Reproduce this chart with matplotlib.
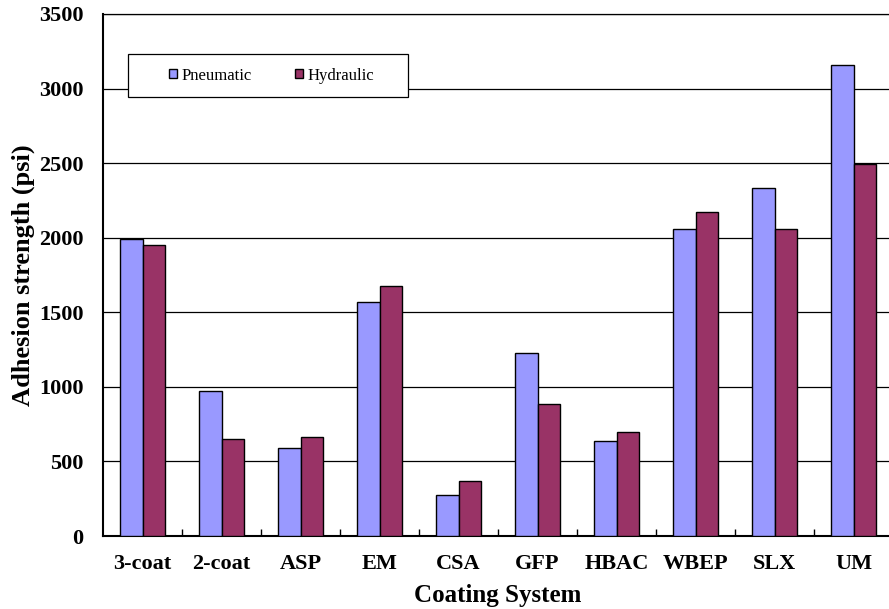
import numpy as np
import matplotlib.pyplot as plt
from matplotlib.patches import Rectangle

plt.rcParams['font.family'] = ['Liberation Serif', 'DejaVu Serif']

# data
systems = ['3-coat', '2-coat', 'ASP', 'EM', 'CSA', 'GFP', 'HBAC', 'WBEP', 'SLX', 'UM']
pneumatic = [1990, 970, 592, 1571, 277, 1229, 637, 2061, 2332, 3159]
hydraulic = [1950, 648, 664, 1676, 367, 887, 700, 2171, 2057, 2495]
yticks = [0, 500, 1000, 1500, 2000, 2500, 3000, 3500]

W, H = 889, 609
fig = plt.figure(figsize=(W/100, H/100), dpi=100)
ax = fig.add_axes([103/W, 1-536/H, (893-103)/W, (536-14)/H])

x = np.arange(len(systems))
bw = 0.285
ax.bar(x - bw/2, pneumatic, bw, color='#9999FF', edgecolor='black', linewidth=1,
       label='Pneumatic', zorder=3)
ax.bar(x + bw/2, hydraulic, bw, color='#993366', edgecolor='black', linewidth=1,
       label='Hydraulic', zorder=3)

ax.set_xlim(-0.5, len(systems) - 0.5)
ax.set_ylim(0, 3500)
ax.set_yticks(yticks)
ax.set_yticklabels([str(v) for v in yticks], fontweight='bold', fontsize=16)
ax.yaxis.grid(True, color='black', linewidth=0.9, zorder=0)
ax.set_axisbelow(True)

ax.set_xticks(x)
ax.set_xticklabels(systems, fontweight='bold', fontsize=16)
ax.set_xticks(np.arange(len(systems)) + 0.5, minor=True)
ax.tick_params(axis='x', which='major', length=0, pad=13)
ax.tick_params(axis='x', which='minor', direction='in', length=5, width=1)
ax.tick_params(axis='y', length=0, pad=14)

ax.spines['right'].set_visible(False)
ax.spines['top'].set_linewidth(0.9)
ax.spines['left'].set_linewidth(1.5)
ax.spines['bottom'].set_linewidth(1.5)

ax.set_ylabel('Adhesion strength (psi)', fontweight='bold', fontsize=19, labelpad=3)
ax.set_xlabel('Coating System', fontweight='bold', fontsize=18, labelpad=7)

# legend frame drawn by hand to get the wide box
fig.patches.append(Rectangle((128/W, 1-97/H), (408-128)/W, (97-54)/H,
                             transform=fig.transFigure, facecolor='white',
                             edgecolor='black', linewidth=0.9, zorder=5))
leg = fig.legend(loc='center left', bbox_to_anchor=(169/W, 1-75.5/H),
                 ncol=2, frameon=False, fontsize=12, handlelength=0.5,
                 handleheight=0.5, handletextpad=0.25, columnspacing=2.6,
                 borderpad=0, borderaxespad=0)
leg.set_zorder(6)

fig.savefig('out.png', dpi=100)
plt.close()
